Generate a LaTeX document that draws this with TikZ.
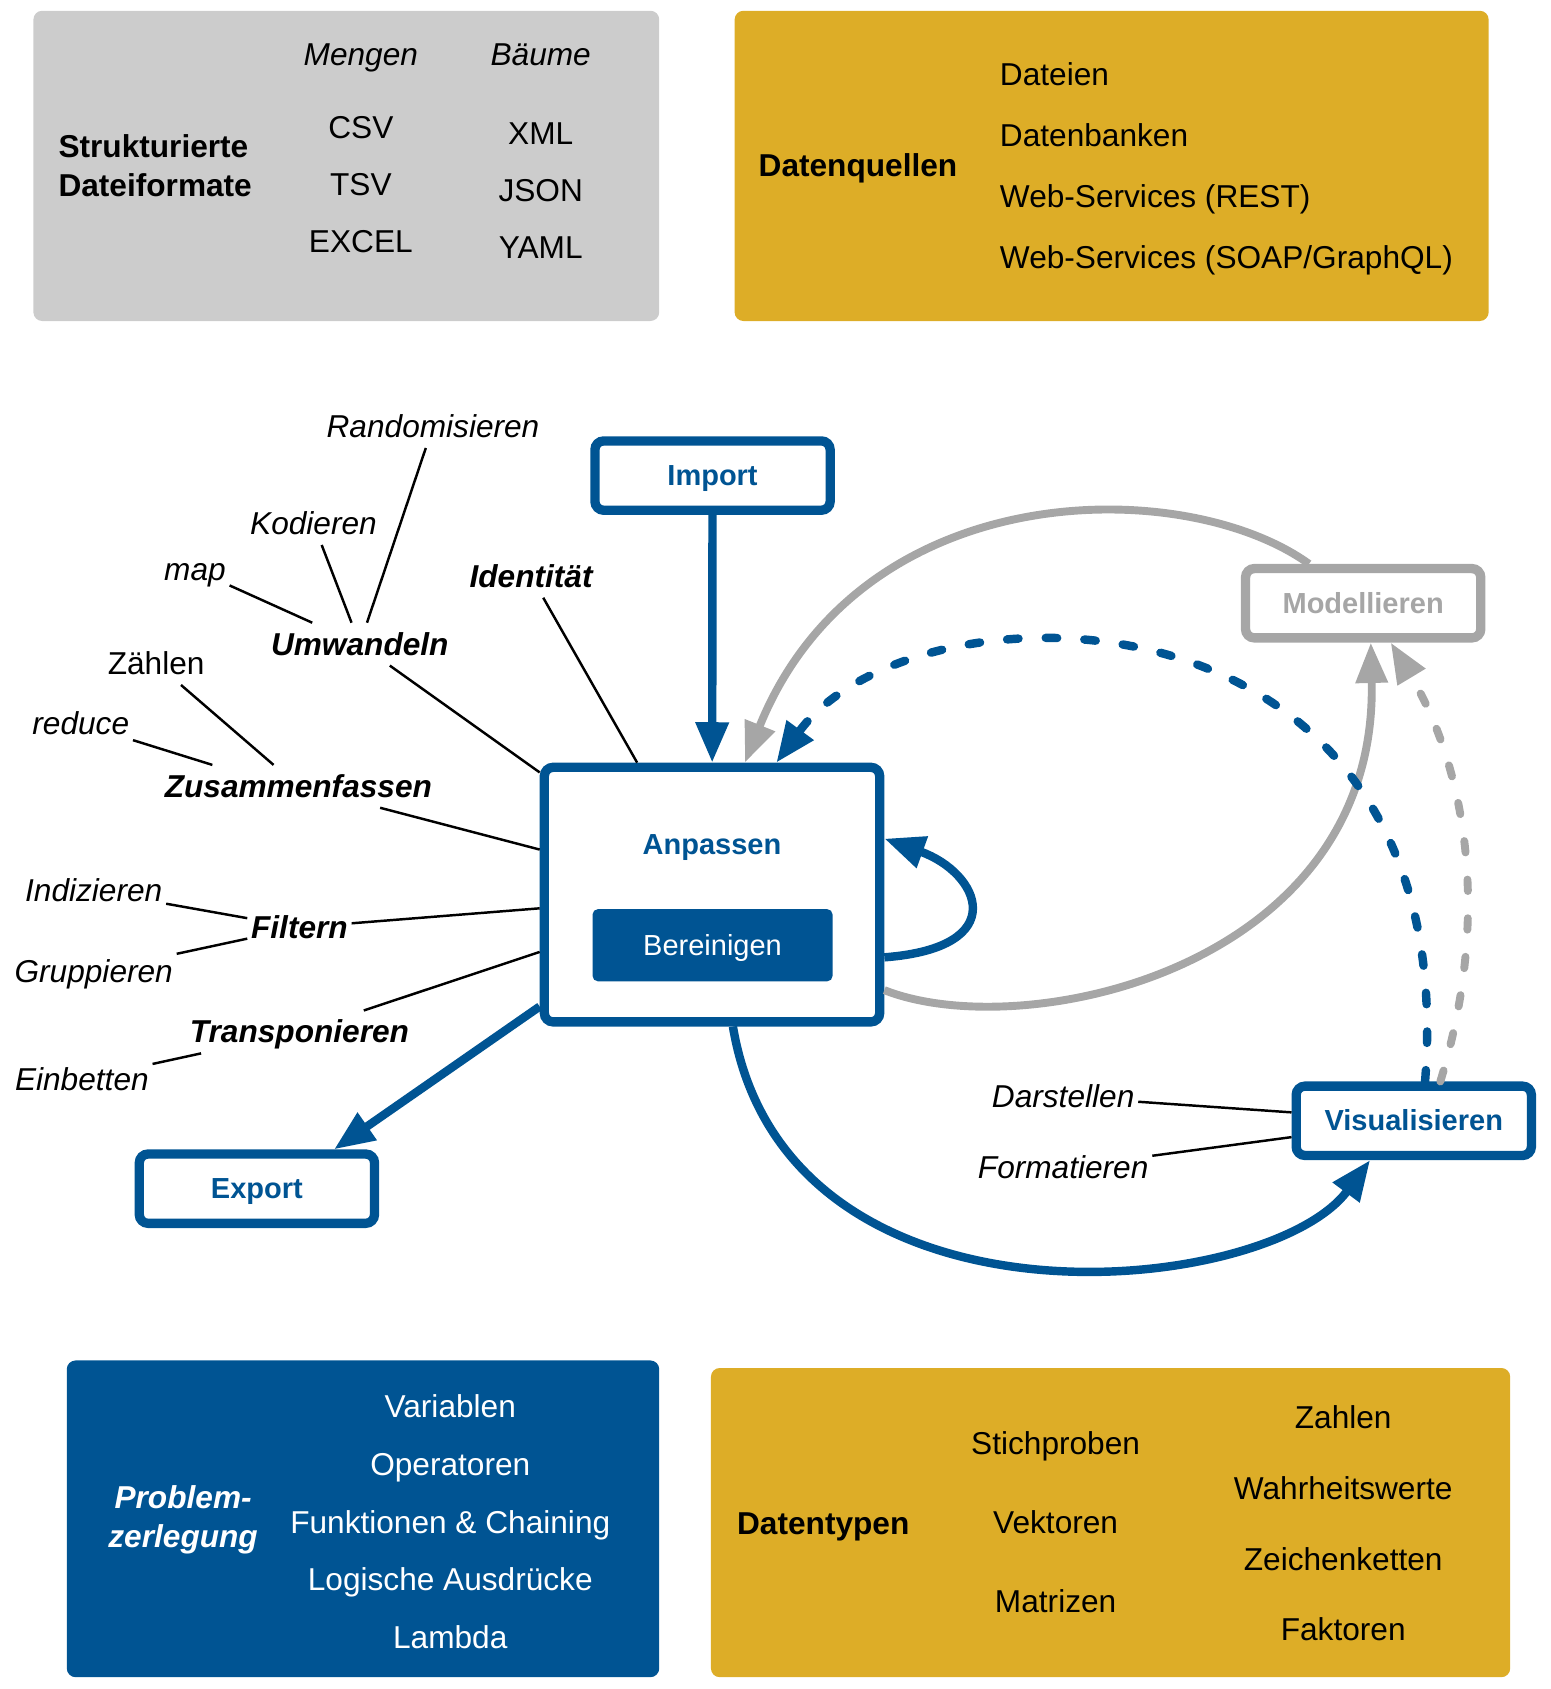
\documentclass[tikz,border=0pt]{standalone}
\usepackage{fontspec}
\setmainfont{Liberation Sans}
\usetikzlibrary{arrows.meta}
\definecolor{tuBlau}{RGB}{0,84,147}
\definecolor{ocker}{RGB}{221,173,39}
\definecolor{hellgrau}{RGB}{204,204,204}
\definecolor{pfeilgrau}{RGB}{166,166,166}
\tikzset{
    panel/.style={rounded corners=5pt},
    schrift/.style={font=\fontsize{18pt}{22pt}\selectfont},
    eintrag/.style={schrift, inner sep=0pt, text height=13pt, text depth=0.5pt},
    kursiv/.style={eintrag, font=\fontsize{18pt}{22pt}\selectfont\itshape},
    fett/.style={eintrag, font=\fontsize{18pt}{22pt}\selectfont\bfseries},
    stufe/.style={draw=tuBlau, line width=5.3pt, rounded corners=5pt, fill=white,
        minimum width=4.705cm, minimum height=1.387cm, text=tuBlau,
        font=\fontsize{16.5pt}{20pt}\selectfont\bfseries, text height=12pt, text depth=0.5pt},
    lbl/.style={font=\fontsize{18pt}{22pt}\selectfont\itshape, inner xsep=2pt,
        inner ysep=5.25pt, text height=13pt, text depth=0.5pt},
    grp/.style={lbl, font=\fontsize{18pt}{22pt}\selectfont\bfseries\itshape},
    leader/.style={line width=1.4pt},
    fluss/.style={line width=4.8pt, tuBlau, -{Triangle[length=23pt,width=18pt]}},
    grau/.style={line width=4.5pt, pfeilgrau, -{Triangle[length=23pt,width=17.5pt]}},
    gestrichelt/.style={dash pattern=on 6.5pt off 15.5pt, line cap=round},
}
\begin{document}
\begin{tikzpicture}[x=0.02154cm, y=-0.02154cm]
    \useasboundingbox (0,0) rectangle (1439,1568);

    % Hintergrundflächen
    \fill[hellgrau, panel] (31,10) rectangle (612,298);
    \fill[ocker, panel] (682,10) rectangle (1382,298);
    \fill[tuBlau, panel] (62,1263) rectangle (612,1557);
    \fill[ocker, panel] (660,1270) rectangle (1402,1557);

    % Strukturierte Dateiformate
    \node[schrift, font=\fontsize{18pt}{22pt}\selectfont\bfseries, align=left, inner sep=0pt, anchor=west] (strukt) at (54,154) {Strukturierte\\Dateiformate};
    \node[kursiv] (mengen) at (335,51) {Mengen};
    \node[kursiv] (baeume) at (502,51) {Bäume};
    \foreach \txt [count=\i] in {CSV, TSV, EXCEL} {
        \node[eintrag] (men\i) at (335,118+53*\i-53) {\txt};
    }
    \foreach \txt [count=\i] in {XML, JSON, YAML} {
        \node[eintrag] (baum\i) at (502,124+53*\i-53) {\txt};
    }

    % Datenquellen
    \node[fett, anchor=west] (quellen) at (704,154) {Datenquellen};
    \foreach \txt [count=\i] in {Dateien, Datenbanken, Web-Services (REST), Web-Services (SOAP/GraphQL)} {
        \node[eintrag, anchor=west] (dq\i) at (928,69+56.67*\i-56.67) {\txt};
    }

    % Problemzerlegung
    \node[schrift, font=\fontsize{18pt}{22pt}\selectfont\bfseries\itshape, text=white, align=center, inner sep=0pt] (problem) at (170,1411) {Problem-\\zerlegung};
    \foreach \txt [count=\i] in {Variablen, Operatoren, Funktionen \& Chaining, Logische Ausdrücke, Lambda} {
        \node[eintrag, text=white] (pz\i) at (418,1306+53.5*\i-53.5) {\txt};
    }

    % Datentypen
    \node[fett, anchor=west] (typen) at (684,1414) {Datentypen};
    \foreach \txt [count=\i] in {Stichproben, Vektoren, Matrizen} {
        \node[eintrag] (dt\i) at (980,1340+73.5*\i-73.5) {\txt};
    }
    \foreach \txt [count=\i] in {Zahlen, Wahrheitswerte, Zeichenketten, Faktoren} {
        \node[eintrag] (dw\i) at (1247,1316+65.7*\i-65.7) {\txt};
    }

    % Stufen
    \node[stufe] (imp) at (661.5,441.5) {Import};
    \node[stufe, minimum width=6.708cm, minimum height=5.092cm] (anp) at (661,830.5) {};
    \node[eintrag, font=\fontsize{16.5pt}{20pt}\selectfont\bfseries, text height=12pt, text=tuBlau] (anptxt) at (661,784) {Anpassen};
    \node[fill=tuBlau, rounded corners=3pt, minimum width=4.8cm, minimum height=1.443cm,
        text=white, font=\fontsize{16.5pt}{20pt}\selectfont, text height=12pt, text depth=0.5pt] (ber) at (661.5,877.5) {Bereinigen};
    \node[stufe, draw=pfeilgrau, text=pfeilgrau] (mod) at (1265.5,560) {Modellieren};
    \node[stufe] (vis) at (1312.5,1040.5) {Visualisieren};
    \node[stufe] (exp) at (238.5,1103.5) {Export};

    % Pfeile
    \draw[fluss] (imp) -- (anp);
    \draw[fluss] (anp.213) -- (exp.27);
    \draw[fluss] (anp.279) .. controls +(50,297) and +(-95,128) .. (vis.222);
    \draw[fluss] (anp.340) .. controls +(119,-9) and +(89,32) .. (anp.18);
    \draw[grau] (anp.331) .. controls +(129,51) and +(7,303) .. (mod.281);
    \draw[grau] (mod.144) .. controls +(-115,-83) and +(108,-268) .. (anp.76);
    \draw[fluss, gestrichelt] (vis.74) .. controls +(37,-474) and +(129,-176) .. (anp.64);
    \draw[grau, gestrichelt] (vis.56) .. controls +(52,-170) and +(62,103) .. (mod.305);

    % Operationen
    \node[lbl] (rand) at (402,396) {Randomisieren};
    \node[lbl] (kod) at (291,486) {Kodieren};
    \node[lbl] (map) at (181,529) {map};
    \node[grp] (umw) at (334,598) {Umwandeln};
    \node[grp] (ident) at (493,535) {Identität};
    \node[lbl, font=\fontsize{18pt}{22pt}\selectfont] (zahl) at (145,616) {Zählen};
    \node[lbl] (red) at (75,672) {reduce};
    \node[grp] (zus) at (277,730) {Zusammenfassen};
    \node[lbl] (indiz) at (87,827) {Indizieren};
    \node[grp] (filt) at (278,861) {Filtern};
    \node[lbl] (grupp) at (87,902) {Gruppieren};
    \node[grp] (trans) at (278,958) {Transponieren};
    \node[lbl] (einb) at (76,1002) {Einbetten};
    \node[lbl] (darst) at (987,1018) {Darstellen};
    \node[lbl] (form) at (987,1084) {Formatieren};

    \draw[leader] (rand) -- (umw);
    \draw[leader] (kod) -- (umw);
    \draw[leader] (map) -- (umw);
    \draw[leader] (umw) -- (anp);
    \draw[leader] (ident) -- (anp);
    \draw[leader] (zahl) -- (zus);
    \draw[leader] (red) -- (zus.166);
    \draw[leader] (zus) -- (anp);
    \draw[leader] (indiz) -- (filt);
    \draw[leader] (grupp) -- (filt);
    \draw[leader] (filt) -- (anp);
    \draw[leader] (trans) -- (anp);
    \draw[leader] (einb) -- (trans);
    \draw[leader] (darst) -- (vis);
    \draw[leader] (form) -- (vis);
\end{tikzpicture}
\end{document}
